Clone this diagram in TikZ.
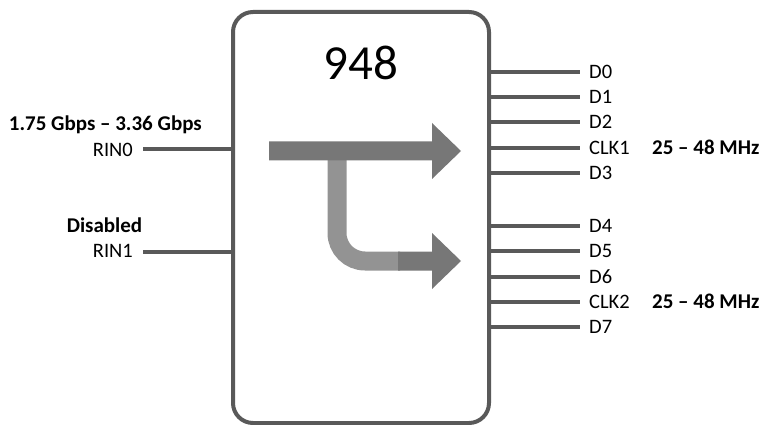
\documentclass[tikz,border=0pt]{standalone}
\usepackage{fontspec}
\setmainfont{Carlito}
\definecolor{pincol}{HTML}{595959}
\definecolor{arrdark}{HTML}{777777}
\definecolor{arrlight}{HTML}{939393}
\begin{document}
\begin{tikzpicture}[x=1pt,y=-1pt,
  pin/.style={line width=4pt, draw=pincol},
  lbl/.style={font=\fontsize{20.5}{20.5}\selectfont, inner sep=0pt},
  blbl/.style={font=\fontsize{21}{21}\selectfont\bfseries, inner sep=0pt}]
\useasboundingbox (0,0) rectangle (761,425);
% chip body
\node[draw=pincol, line width=4pt, rounded corners=20pt, minimum width=256pt,
      minimum height=411pt, inner sep=0pt] (chip) at (361,217.5) {};
\node[font=\fontsize{49}{49}\selectfont, inner sep=0pt] (title) at (361,63) {948};
% arrows
\draw[arrlight, line width=19pt, rounded corners=28pt] (337,159) -- (337,261) -- (400,261);
\fill[arrdark] (398,251.5) -- (432,251.5) -- (432,233) -- (461,261) -- (432,289)
      -- (432,270.5) -- (398,270.5) -- cycle;
\fill[arrdark] (269,141.5) -- (432,141.5) -- (432,123) -- (461,151) -- (432,179)
      -- (432,160.5) -- (269,160.5) -- cycle;
% left pins
\coordinate (r0) at (143,149);
\coordinate (r1) at (143,252);
\draw[pin] (r0) -- (r0 -| chip.west);
\draw[pin] (r1) -- (r1 -| chip.west);
\node[lbl, anchor=base east] (rin0) at (133,157) {RIN0};
\node[lbl, anchor=base east] (rin1) at (133,258) {RIN1};
\node[blbl, anchor=base east] (rate) at (202,131) {1.75 Gbps – 3.36 Gbps};
\node[blbl, anchor=base] (dis) at (104.5,233) {Disabled};
% right pins
\foreach \n/\y in {D0/72,D1/97,D2/122,CLK1/148,D3/173,D4/226,D5/251,D6/277,CLK2/302,D7/327} {
  \coordinate (p\n) at (580,\y);
  \draw[pin] (p\n -| chip.east) -- (p\n);
  \node[lbl, anchor=base west] (l\n) at (589,\y+6.5) {\n};
}
\node[blbl, anchor=base west] (f1) at (652,154.5) {25 – 48 MHz};
\node[blbl, anchor=base west] (f2) at (652,308.5) {25 – 48 MHz};
\end{tikzpicture}
\end{document}
